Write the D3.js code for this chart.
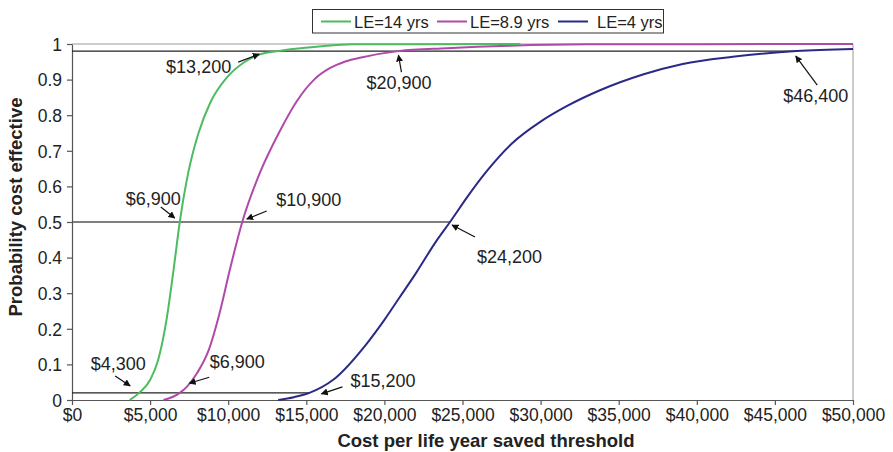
<!DOCTYPE html>
<html>
<head>
<meta charset="utf-8">
<script src="https://cdn.jsdelivr.net/npm/d3@7"></script>
<style>
  html, body { margin: 0; padding: 0; background: #fff; }
  svg { display: block; font-family: "Liberation Sans", Arial, Helvetica, sans-serif; }
</style>
</head>
<body>
<svg id="chart" width="893" height="452"></svg>
<script>
// Cost-effectiveness acceptability curves: [threshold ($/life-year), probability]
const seriesNames = ["LE=14 yrs", "LE=8.9 yrs", "LE=4 yrs"];
const seriesColors = ["#4dbb5f", "#b04aa8", "#2a2a86"];

const le14 = [
  [3700, 0], [4300, 0.02], [5000, 0.056], [5500, 0.11], [6050, 0.225], [6500, 0.365],
  [6900, 0.5], [7450, 0.64], [8100, 0.75], [8850, 0.835], [9900, 0.905], [11000, 0.948],
  [12000, 0.97], [13200, 0.98], [14000, 0.985], [16000, 0.994], [18000, 0.999], [28700, 1]
];
const le89 = [
  [5850, 0], [6900, 0.02], [7350, 0.037], [8000, 0.075], [8750, 0.14], [9500, 0.253],
  [10100, 0.365], [10900, 0.5], [12000, 0.635], [13300, 0.755], [14400, 0.84], [15500, 0.9],
  [16500, 0.932], [17500, 0.951], [18600, 0.963], [20900, 0.98], [24000, 0.988], [28000, 0.995],
  [33000, 0.999], [50000, 1]
];
const le4 = [
  [13200, 0], [14200, 0.008], [15200, 0.02], [16700, 0.056], [18900, 0.16], [20000, 0.225],
  [21000, 0.29], [22000, 0.355], [23300, 0.445], [24200, 0.5], [25300, 0.57], [26500, 0.64],
  [28200, 0.722], [30000, 0.782], [31700, 0.826], [33800, 0.87], [36600, 0.915], [39100, 0.944],
  [42300, 0.964], [46400, 0.98], [50000, 0.986]
];

const xTicks = [0, 5000, 10000, 15000, 20000, 25000, 30000, 35000, 40000, 45000, 50000];
const yTicks = [0, 0.1, 0.2, 0.3, 0.4, 0.5, 0.6, 0.7, 0.8, 0.9, 1];

// Probability levels marked with horizontal guides, and where each guide stops
const guideLevels = [0.02, 0.5, 0.98];
const guideEnds = [15200, 24200, 46400];

// Threshold values called out on the curves
const calloutValues = [13200, 20900, 46400, 6900, 10900, 24200, 4300, 6900, 15200];
const calloutLevels = [0.98, 0.98, 0.98, 0.5, 0.5, 0.5, 0.02, 0.02, 0.02];

const xAxisTitle = "Cost per life year saved threshold";
const yAxisTitle = "Probability cost effective";

// ---- layout ----
const svg = d3.select("#chart");
const plotLeft = 72, plotRight = 853, plotTop = 44, plotBottom = 400;
const x = d3.scaleLinear().domain([0, 50000]).range([plotLeft, plotRight]);
const y = d3.scaleLinear().domain([0, 1]).range([plotBottom, plotTop]);
const money = v => "$" + d3.format(",")(v);

const defs = svg.append("defs");
defs.append("marker")
  .attr("id", "head")
  .attr("viewBox", "0 0 10 10")
  .attr("refX", 9).attr("refY", 5)
  .attr("markerWidth", 7).attr("markerHeight", 7)
  .attr("markerUnits", "userSpaceOnUse")
  .attr("orient", "auto")
  .append("path").attr("d", "M0,0 L10,5 L0,10 z").attr("fill", "#111");

// plot frame (top and right edges)
svg.append("path")
  .attr("d", `M${plotLeft},${plotTop}H${plotRight}V${plotBottom}`)
  .attr("fill", "none").attr("stroke", "#999").attr("stroke-width", 1);

// axes
const xAxis = svg.append("g").attr("transform", `translate(0,${plotBottom})`)
  .call(d3.axisBottom(x).tickValues(xTicks).tickFormat(money).tickSizeInner(5).tickSizeOuter(0).tickPadding(6));
const yAxis = svg.append("g").attr("transform", `translate(${plotLeft},0)`)
  .call(d3.axisLeft(y).tickValues(yTicks).tickFormat(d => d3.format("")(+d.toFixed(1))).tickSizeInner(5).tickSizeOuter(0).tickPadding(5));
[xAxis, yAxis].forEach(g => {
  g.select(".domain").attr("stroke", "#555").attr("stroke-width", 1.2);
  g.selectAll(".tick line").attr("stroke", "#555").attr("stroke-width", 1.2);
  g.selectAll(".tick text").attr("fill", "#222").style("font-size", "17.5px");
});
xAxis.selectAll(".tick text").attr("dy", "0.57em");
yAxis.selectAll(".tick text").attr("dy", "0.36em");

// horizontal guide lines
svg.append("g").selectAll("line")
  .data(guideLevels)
  .join("line")
  .attr("x1", x(0)).attr("x2", (d, i) => x(guideEnds[i]))
  .attr("y1", d => y(d)).attr("y2", d => y(d))
  .attr("stroke", (d, i) => i === 1 ? "#555" : "#222")
  .attr("stroke-width", 1.3);

// curves
const line = d3.line().x(d => x(d[0])).y(d => y(d[1])).curve(d3.curveMonotoneX);
const series = [le14, le89, le4];
[2, 1, 0].forEach(i => {
  svg.append("path")
    .datum(series[i])
    .attr("d", line)
    .attr("fill", "none")
    .attr("stroke", seriesColors[i])
    .attr("stroke-width", 2);
});

// callouts: arrow (head, tail) and label offsets from each crossing point
const calloutLayout = [
  { head: [-19, 3],   tail: [-40, 11],  text: [-47, 22],  anchor: "end" },
  { head: [0, 4],     tail: [3, 21],    text: [0.5, 38],  anchor: "middle" },
  { head: [-1, 5],    tail: [20.5, 34], text: [19, 51],   anchor: "middle" },
  { head: [-5, -4],   tail: [-19, -15], text: [-26.5, -17], anchor: "middle" },
  { head: [4.5, -3],  tail: [24.5, -11], text: [34, -16], anchor: "start" },
  { head: [2, 3],     tail: [25, 15],   text: [27, 41],   anchor: "start" },
  { head: [-9, -7],   tail: [-24, -17], text: [-21, -23], anchor: "middle" },
  { head: [9.5, -9.6], tail: [29.5, -15.6], text: [30, -25], anchor: "start" },
  { head: [12, 1],    tail: [33, -6],   text: [41, -6],   anchor: "start" }
];
const callouts = svg.append("g");
calloutValues.forEach((v, i) => {
  const px = x(v), py = y(calloutLevels[i]);
  const L = calloutLayout[i];
  callouts.append("line")
    .attr("x1", px + L.tail[0]).attr("y1", py + L.tail[1])
    .attr("x2", px + L.head[0]).attr("y2", py + L.head[1])
    .attr("stroke", "#111").attr("stroke-width", 1.2)
    .attr("marker-end", "url(#head)");
  callouts.append("text")
    .attr("x", px + L.text[0]).attr("y", py + L.text[1])
    .attr("text-anchor", L.anchor)
    .attr("fill", "#222")
    .style("font-size", "18px")
    .text(money(v));
});

// axis titles
svg.append("text")
  .attr("x", 486).attr("y", 447)
  .attr("text-anchor", "middle")
  .attr("fill", "#222")
  .style("font-size", "18.5px").style("font-weight", "bold")
  .text(xAxisTitle);
svg.append("text")
  .attr("transform", "translate(22,207) rotate(-90)")
  .attr("text-anchor", "middle")
  .attr("fill", "#222")
  .style("font-size", "18.5px").style("font-weight", "bold")
  .text(yAxisTitle);

// legend
const legend = svg.append("g");
legend.append("rect")
  .attr("x", 312.5).attr("y", 9.5).attr("width", 351).attr("height", 23.5)
  .attr("fill", "#fff").attr("stroke", "#333").attr("stroke-width", 1);
const legendLineX = [321, 437, 558];
const legendTextX = [354, 470, 597];
seriesNames.forEach((name, i) => {
  legend.append("line")
    .attr("x1", legendLineX[i]).attr("x2", legendLineX[i] + 30)
    .attr("y1", 21.5).attr("y2", 21.5)
    .attr("stroke", seriesColors[i]).attr("stroke-width", 2);
  legend.append("text")
    .attr("x", legendTextX[i]).attr("y", 27.5)
    .attr("fill", "#222")
    .style("font-size", "16.5px")
    .text(name);
});
</script>
</body>
</html>
